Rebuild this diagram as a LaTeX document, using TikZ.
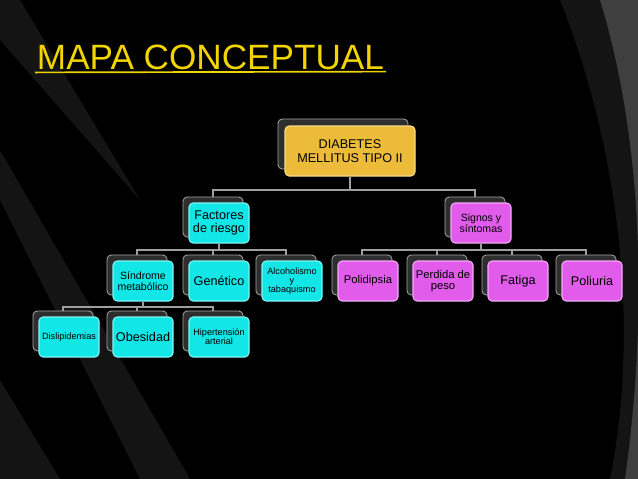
\documentclass[tikz,border=0pt]{standalone}
\usepackage{fontspec}
\setmainfont{Liberation Sans}
\usepackage{tikz}
\usetikzlibrary{positioning}
\definecolor{aqua}{HTML}{12E6E6}
\definecolor{aquaedge}{HTML}{7FF5F5}
\definecolor{pink}{HTML}{E25CEC}
\definecolor{pinkedge}{HTML}{F2A8F5}
\definecolor{gold}{HTML}{EDBB3A}
\definecolor{goldedge}{HTML}{F7DB8A}
\definecolor{backbox}{HTML}{2E2E2E}
\definecolor{stripe}{HTML}{141414}
\definecolor{titlecol}{HTML}{F2D400}
\newcommand{\concept}[6]{%
  \node [back] (b#1) at (#2-6,#3-6) {};
  \node [front, fill=#4, draw=#4edge, font=\fontsize{#6}{#6}\selectfont] (#1) at (#2,#3) {#5};}
\begin{document}
\begin{tikzpicture}[x=0.025cm, y=-0.025cm,
    back/.style={draw=gray!70, fill=backbox, rounded corners=3pt, minimum width=60*0.025cm, minimum height=40*0.025cm, line width=.6pt},
    front/.style={rounded corners=3pt, minimum width=60*0.025cm, minimum height=40*0.025cm, text centered, align=center, line width=.8pt, inner sep=1pt},
    link/.style={draw=gray!75, line width=1pt}]
\fill [black] (0,0) rectangle (638,479);
\useasboundingbox (0,0) rectangle (638,479);
% background stripes
\fill [stripe] (0,479) -- (0,380) -- (60,479) -- cycle;
\fill [stripe] (0,200) -- (0,150) -- (190,479) -- (140,479) -- cycle;
\fill [stripe] (0,40) -- (0,0) -- (20,0) -- (140,200) -- cycle;
\fill [stripe] (560,0) -- (638,0) -- (638,479) -- (610,479) .. controls (640,330) and (620,150) .. (560,0) -- cycle;
\fill [stripe!60!gray] (600,0) -- (638,0) -- (638,479) -- (625,479) .. controls (650,300) and (640,130) .. (600,0) -- cycle;
% title
\node [anchor=west, text=titlecol, font=\fontsize{25}{28}\selectfont] (title) at (32,57) {MAPA CONCEPTUAL};
\draw [titlecol, line width=1.2pt] (title.south west) ++(3,-2) -- ([xshift=-2pt,yshift=2pt]title.south east);
% concepts
\node [back, minimum width=130*0.025cm, minimum height=50*0.025cm] (bdm) at (343,144) {};
\node [front, fill=gold, draw=goldedge, minimum width=130*0.025cm, minimum height=50*0.025cm, font=\fontsize{9}{10}\selectfont] (dm) at (350,151) {DIABETES\\MELLITUS TIPO II};
\concept{fr}{219}{223}{aqua}{Factores\\de riesgo}{9}
\concept{ss}{481}{223}{pink}{Signos y\\síntomas}{7.5}
\concept{sm}{143}{281}{aqua}{Síndrome\\metabólico}{7.5}
\concept{ge}{219}{281}{aqua}{Genético}{9}
\concept{at}{292}{281}{aqua}{Alcoholismo\\y\\tabaquismo}{6.5}
\concept{pd}{368}{281}{pink}{Polidipsia}{8}
\concept{pp}{443}{281}{pink}{Perdida de\\peso}{8}
\concept{fa}{518}{281}{pink}{Fatiga}{9}
\concept{pu}{592}{281}{pink}{Poliuria}{9}
\concept{dl}{69}{337}{aqua}{Dislipidemias}{6.5}
\concept{ob}{143}{337}{aqua}{Obesidad}{9}
\concept{ha}{219}{337}{aqua}{Hipertensión\\arterial}{6.5}
% connectors
\foreach \c in {bfr, bss}
  \draw [link] (dm.south) -- (dm.south |- 0,190) -| (\c.north);
\foreach \c in {bsm, bge, bat}
  \draw [link] (fr.south) -- (fr.south |- 0,250) -| (\c.north);
\foreach \c in {bpd, bpp, bfa, bpu}
  \draw [link] (ss.south) -- (ss.south |- 0,250) -| (\c.north);
\foreach \c in {bdl, bob, bha}
  \draw [link] (sm.south) -- (sm.south |- 0,307) -| (\c.north);
\end{tikzpicture}
\end{document}
